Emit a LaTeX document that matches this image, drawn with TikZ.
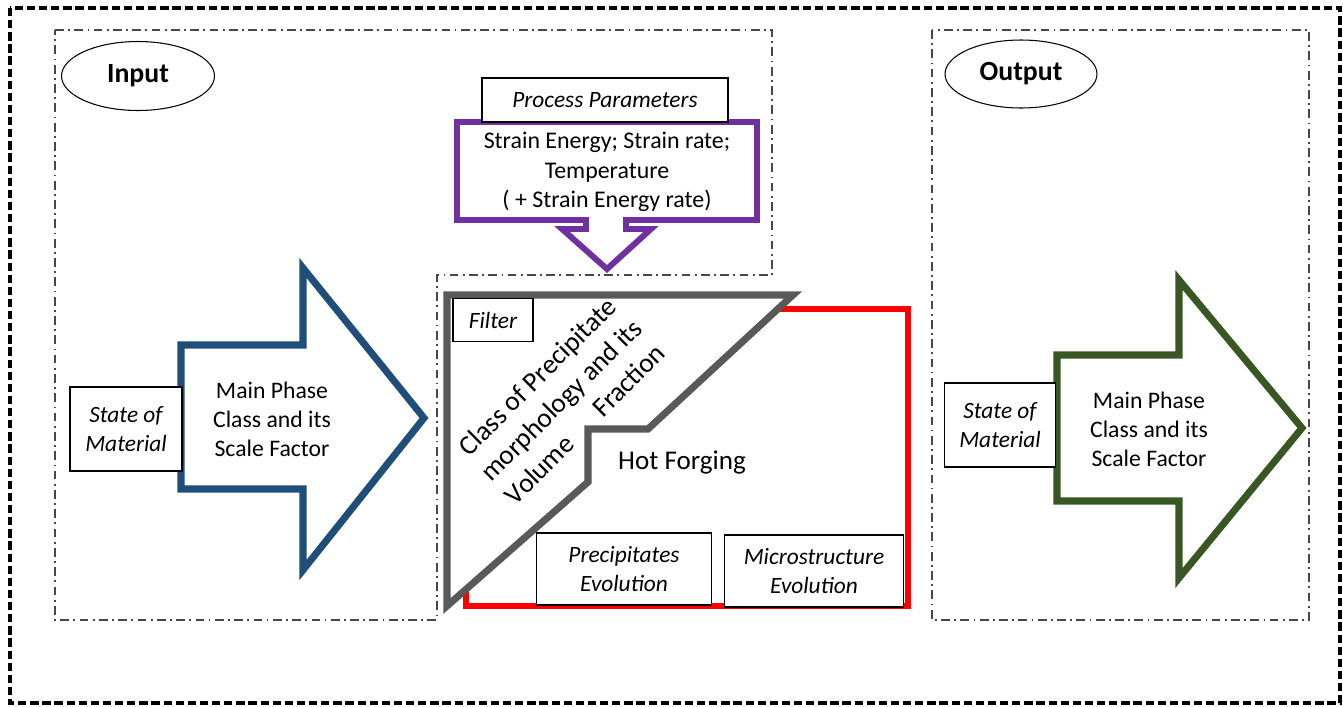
\documentclass[tikz,border=0pt]{standalone}
\usepackage{fontspec}
\setmainfont{Carlito}
\usetikzlibrary{shapes.geometric}
\definecolor{arrblue}{RGB}{31,78,121}
\definecolor{arrgreen}{RGB}{56,87,35}
\definecolor{arrpurple}{RGB}{112,48,160}
\definecolor{filtergrey}{RGB}{89,89,89}
\definecolor{hotred}{RGB}{255,0,0}
\begin{document}
\begin{tikzpicture}[x=0.02cm,y=-0.02cm,
  outerdash/.style={draw=black, line width=2pt, dash pattern=on 4.7pt off 2.2pt},
  dashdotbox/.style={draw=black!72, line width=1pt, dash pattern=on 5pt off 2.5pt on 1pt off 2.5pt},
  oval/.style={draw, ellipse, line width=0.6pt, fill=white, inner sep=0pt,
    font=\bfseries\fontsize{15.8}{18}\selectfont},
  lblbox/.style={draw, line width=0.8pt, fill=white, inner sep=0pt, align=center,
    font=\itshape\fontsize{13.3}{16.6}\selectfont},
  bodytxt/.style={align=center, inner sep=0pt, font=\fontsize{13.5}{16.5}\selectfont},
  bigarrow/.style={line width=4pt, fill=white, line join=miter},
]
\useasboundingbox (0,0) rectangle (1343,707);

% outer frame
\draw[outerdash] (10,8) rectangle (1340,703);

% input and output regions
\draw[dashdotbox] (55,30) -- (772,30) -- (772,275) -- (437,275) -- (437,620) -- (55,620) -- cycle;
\draw[dashdotbox] (932,30) rectangle (1309,620);

\node[oval, minimum width=3.06cm, minimum height=1.38cm] (input) at (138,76) {Input};
\node[oval, minimum width=3.04cm, minimum height=1.36cm] (output) at (1021,74) {Output};

% input arrow
\draw[bigarrow, draw=arrblue] (181,345) -- (303,345) -- (303,268) -- (424,418)
  -- (303,570) -- (303,489) -- (181,489) -- cycle;
\node[bodytxt] (mp1) at (272,419) {Main Phase\\Class and its\\Scale Factor};
\node[lblbox, minimum width=2.24cm, minimum height=1.68cm] (state1) at (126,429) {State of\\Material};

% output arrow
\draw[bigarrow, draw=arrgreen] (1057,355) -- (1179,355) -- (1179,280) -- (1302,428)
  -- (1179,578) -- (1179,501) -- (1057,501) -- cycle;
\node[bodytxt] (mp2) at (1149,429) {Main Phase\\Class and its\\Scale Factor};
\node[lblbox, minimum width=2.22cm, minimum height=1.68cm] (state2) at (1000,425) {State of\\Material};

% process parameters
\draw[line width=3.4pt, draw=arrpurple, fill=white] (457,122) -- (757,122) -- (757,220)
  -- (626,220) -- (626,229) -- (651,229) -- (607,269) -- (562,229) -- (586,229)
  -- (586,220) -- (457,220) -- cycle;
\node[bodytxt, font=\fontsize{13.6}{16.8}\selectfont] (params) at (607,172)
  {Strain Energy; Strain rate;\\Temperature\\( + Strain Energy rate)};
\node[lblbox, minimum width=4.92cm, minimum height=0.88cm] (pp) at (605,100) {Process Parameters};

% hot forging block
\draw[line width=3.5pt, draw=hotred] (466,309) rectangle (908,606);
\draw[line width=4pt, draw=filtergrey, fill=white, line join=miter] (447,295) -- (793,295)
  -- (648,429) -- (588,429) -- (588,482) -- (447,606) -- cycle;
\node[align=center, inner sep=0pt, rotate=45, font=\fontsize{15.6}{19.2}\selectfont] (cls) at (561,400)
  {Class of Precipitate\\morphology and its\\Volume\hspace{1.4em}Fraction};
\node[inner sep=0pt, font=\fontsize{15.4}{18}\selectfont] (hot) at (682,463) {Hot Forging};
\node[lblbox, minimum width=1.6cm, minimum height=0.86cm] (filter) at (493,320) {Filter};
\node[lblbox, minimum width=3.5cm, minimum height=1.44cm] (precip) at (624,569) {Precipitates\\Evolution};
\node[lblbox, minimum width=3.58cm, minimum height=1.44cm] (micro) at (814,571) {Microstructure\\Evolution};
\end{tikzpicture}
\end{document}
